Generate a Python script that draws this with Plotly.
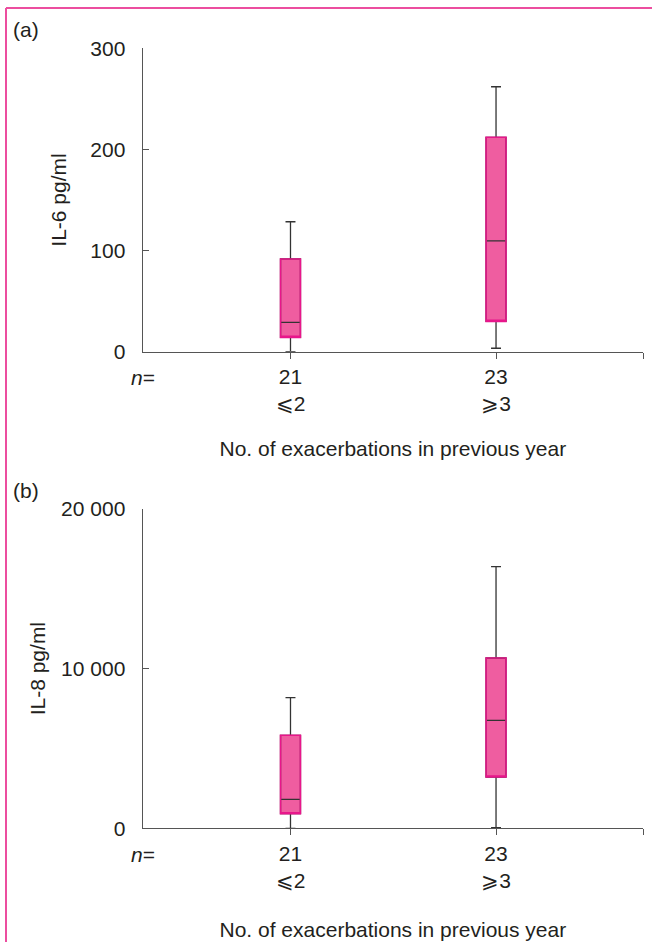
import plotly.graph_objects as go

W, H = 652, 942

# ---- data ----
groups_n = ["21", "23"]
groups_lbl = ["⩽2", "⩾3"]
x_pos = [0, 1]

il6_lower = [0, 3.4]
il6_q1 = [14.2, 30]
il6_median = [29, 109.5]
il6_q3 = [91.7, 212]
il6_upper = [128.5, 262]

il8_lower = [0, 40]
il8_q1 = [915, 3213]
il8_median = [1816, 6765]
il8_q3 = [5825, 10667]
il8_upper = [8181, 16386]

il6_ticks = [0, 100, 200, 300]
il6_ticktext = ["0", "100", "200", "300"]
il8_ticks = [0, 10000, 20000]
il8_ticktext = ["0", "10 000", "20 000"]

FONT = "Liberation Sans, Arial, Helvetica, sans-serif"
TXT = "#231F20"
FILL = "#EF5DA0"
EDGE = "#E8168B"
DARK = "#333333"
AXC = "#555555"
FRAME = "#EC4E9F"
FS = 21

XR = [-0.719, 1.715]
BW = 0.097


def px_y(p):
    return 1 - p / H


fig = go.Figure()


def add_boxes(xa, ya, lower, q1, med, q3, upper):
    fig.add_trace(go.Box(
        x=x_pos, q1=q1, median=med, q3=q3, lowerfence=lower, upperfence=upper,
        xaxis=xa, yaxis=ya, width=BW, whiskerwidth=0.5,
        fillcolor=FILL, line=dict(color=DARK, width=1.3),
        boxpoints=False, showlegend=False, hoverinfo="skip"))
    fig.add_trace(go.Box(
        x=x_pos, q1=q1, median=q1, q3=q3, lowerfence=q1, upperfence=q3,
        xaxis=xa, yaxis=ya, width=BW, whiskerwidth=0.5,
        fillcolor="rgba(0,0,0,0)", line=dict(color=EDGE, width=1.6),
        boxpoints=False, showlegend=False, hoverinfo="skip"))


add_boxes("x", "y", il6_lower, il6_q1, il6_median, il6_q3, il6_upper)
add_boxes("x2", "y2", il8_lower, il8_q1, il8_median, il8_q3, il8_upper)

xdom = [142.7 / W, 643 / W]
ticktext_x = [f"{n}<br>{l}" for n, l in zip(groups_n, groups_lbl)] + [""]
XTITLE = "No. of exacerbations in previous year"

xcommon = dict(
    range=XR, domain=xdom, showline=True, linecolor=AXC, linewidth=1.3,
    ticks="outside", ticklen=6, tickwidth=1.3, tickcolor=AXC,
    tickvals=x_pos + [XR[1]], ticktext=ticktext_x,
    tickfont=dict(family=FONT, size=FS, color=TXT),
    showgrid=False, zeroline=False, fixedrange=True, automargin=False,
)
ycommon = dict(
    showline=True, linecolor=AXC, linewidth=1.3,
    ticks="inside", ticklen=6, tickwidth=1.3, tickcolor=AXC,
    tickfont=dict(family=FONT, size=FS, color=TXT),
    showgrid=False, zeroline=False, fixedrange=True, ticklabelstandoff=12,
    automargin=False,
)
tfont = dict(family=FONT, size=FS, color=TXT)

fig.update_layout(
    template="none",
    width=W, height=H, margin=dict(l=0, r=0, t=0, b=0, autoexpand=False),
    paper_bgcolor="white", plot_bgcolor="white", boxmode="overlay",
    font=tfont,
    xaxis=dict(**xcommon, anchor="y", title=dict(text=XTITLE, font=tfont, standoff=26)),
    yaxis=dict(**ycommon, range=[0, 300], domain=[px_y(351.7), px_y(48.3)],
               tickvals=il6_ticks, ticktext=il6_ticktext, anchor="x",
               title=dict(text="IL-6 pg/ml", font=tfont, standoff=17)),
    xaxis2=dict(**xcommon, anchor="y2", title=dict(text=XTITLE, font=tfont, standoff=31)),
    yaxis2=dict(**ycommon, range=[0, 20000], domain=[px_y(828.3), px_y(509)],
                tickvals=il8_ticks, ticktext=il8_ticktext, anchor="x2",
                title=dict(text="IL-8 pg/ml", font=tfont, standoff=9)),
)

# panel letters and n= labels
for lbl, yp in [("(a)", 30), ("(b)", 490)]:
    fig.add_annotation(text=lbl, xref="paper", yref="paper", x=11 / W, y=px_y(yp),
                       xanchor="left", yanchor="middle", showarrow=False, font=tfont)
for yp in [377.6, 854.6]:
    fig.add_annotation(text="<i>n</i>=", xref="paper", yref="paper", x=129 / W, y=px_y(yp),
                       xanchor="left", yanchor="middle", showarrow=False, font=tfont)

# figure frame (top and left pink rules)
fig.add_shape(type="line", xref="paper", yref="paper", x0=6 / W, x1=1, y0=px_y(8), y1=px_y(8),
              line=dict(color=FRAME, width=2))
fig.add_shape(type="line", xref="paper", yref="paper", x0=6 / W, x1=6 / W, y0=px_y(8), y1=0,
              line=dict(color=FRAME, width=2))

fig.write_html("out.html", config={"displayModeBar": False},
               post_script="document.body.style.margin='0';document.body.style.overflow='hidden';")
